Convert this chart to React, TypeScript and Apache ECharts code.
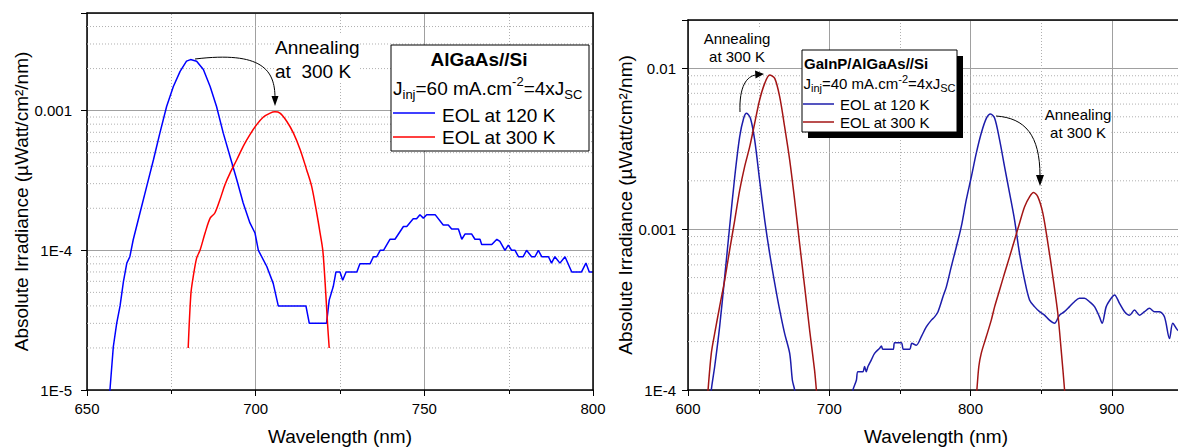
import React, { useEffect, useRef } from "react";
import * as echarts from "echarts";

const FONT = "'Liberation Sans', Arial, Helvetica, sans-serif";

// ---------- Left panel: AlGaAs//Si ----------
const xTitle = "Wavelength (nm)";
const yTitle = "Absolute Irradiance (µWatt/cm²/nm)";
const leftYTickValues = [1e-5, 1e-4, 1e-3];
const leftYTickLabels = ["1E-5", "1E-4", "0.001"];
const leftMinorY = [2e-5, 3e-5, 4e-5, 5e-5, 6e-5, 7e-5, 8e-5, 9e-5, 2e-4, 3e-4, 4e-4, 5e-4, 6e-4, 7e-4, 8e-4, 9e-4, 2e-3, 3e-3, 4e-3];
const leftMinorX = [675, 725, 775];

const leftEol120: [number, number][] = [
  [656.5, 8e-6], [656.8, 1.0e-5], [657.8, 2.04e-5], [658.8, 3.0e-5], [659.8, 4.0e-5], [660.8, 5.97e-5],
  [661.8, 8.1e-5], [662.7, 9.0e-5], [663.7, 1.19e-4], [665.7, 1.85e-4], [667.7, 2.87e-4], [669.7, 4.45e-4],
  [671.6, 6.9e-4], [673.6, 1.07e-3], [675.6, 1.49e-3], [677.6, 1.91e-3], [679.5, 2.26e-3], [680.7, 2.32e-3],
  [682.5, 2.26e-3], [684.5, 1.97e-3], [686.5, 1.49e-3], [688.4, 1.07e-3], [690.4, 6.9e-4], [692.4, 4.7e-4],
  [694.4, 3.2e-4], [696.3, 2.18e-4], [698.3, 1.57e-4], [699.8, 1.33e-4], [700.8, 1.0e-4], [703.3, 7.66e-5],
  [705.2, 5.8e-5], [706.7, 4.0e-5], [714.9, 4.0e-5], [715.9, 3.0e-5], [721.0, 3.0e-5], [721.8, 4.4e-5],
  [723.0, 5.5e-5], [723.8, 7.0e-5], [725.0, 7.0e-5], [725.8, 6.1e-5], [726.8, 7.0e-5], [730.0, 7.0e-5],
  [730.9, 8.0e-5], [733.9, 8.0e-5], [734.9, 9.0e-5], [735.9, 9.0e-5], [736.9, 1.0e-4], [737.9, 1.0e-4],
  [739.8, 1.2e-4], [741.3, 1.2e-4], [743.8, 1.48e-4], [744.8, 1.48e-4], [746.7, 1.68e-4], [747.7, 1.68e-4],
  [748.7, 1.8e-4], [749.7, 1.7e-4], [750.7, 1.8e-4], [753.2, 1.8e-4], [755.6, 1.52e-4], [757.1, 1.52e-4],
  [758.1, 1.42e-4], [760.1, 1.42e-4], [761.1, 1.2e-4], [762.1, 1.31e-4], [764.0, 1.31e-4], [765.0, 1.2e-4],
  [766.5, 1.2e-4], [767.0, 1.1e-4], [770.0, 1.1e-4], [771.5, 1.2e-4], [772.4, 1.16e-4], [773.9, 1.0e-4],
  [774.9, 1.09e-4], [775.9, 1.0e-4], [776.9, 1.0e-4], [777.9, 9.0e-5], [779.3, 9.0e-5], [780.3, 1.0e-4],
  [781.8, 9.0e-5], [782.8, 9.0e-5], [783.8, 1.0e-4], [784.8, 9.0e-5], [786.8, 9.0e-5], [787.7, 8.1e-5],
  [788.7, 9.0e-5], [790.2, 8.1e-5], [791.7, 9.0e-5], [793.7, 7.0e-5], [796.6, 7.0e-5], [797.9, 8.1e-5],
  [798.9, 7.0e-5], [800.0, 7.0e-5],
];

const leftEol300: [number, number][] = [
  [680.0, 2.0e-5], [680.8, 4.9e-5], [681.5, 6.5e-5], [682.5, 8.8e-5], [683.5, 1.0e-4], [685.0, 1.33e-4],
  [686.5, 1.7e-4], [687.9, 1.85e-4], [689.4, 2.3e-4], [690.9, 2.95e-4], [692.4, 3.57e-4], [694.4, 4.45e-4],
  [696.3, 5.55e-4], [698.3, 6.73e-4], [700.3, 7.94e-4], [702.3, 9.0e-4], [704.3, 9.6e-4], [705.7, 9.8e-4],
  [707.2, 9.6e-4], [709.2, 8.4e-4], [711.2, 6.9e-4], [713.2, 5.25e-4], [715.1, 3.78e-4], [716.6, 2.87e-4],
  [718.1, 1.85e-4], [719.1, 1.33e-4], [719.9, 1.0e-4], [720.6, 5.8e-5], [721.3, 3.0e-5], [721.8, 2.0e-5],
];

// ---------- Right panel: GaInP/AlGaAs//Si ----------
const rightYTickValues = [1e-4, 1e-3, 1e-2];
const rightYTickLabels = ["1E-4", "0.001", "0.01"];
const rightMinorY = [2e-4, 3e-4, 4e-4, 5e-4, 6e-4, 7e-4, 8e-4, 9e-4, 2e-3, 3e-3, 4e-3, 5e-3, 6e-3, 7e-3, 8e-3, 9e-3];
const rightMinorX = [650, 750, 850];

const rightEol120: [number, number][] = [
  [616.0, 8e-5], [616.5, 1.0e-4], [618.9, 1.4e-4], [622.4, 2.48e-4], [626.0, 5.07e-4], [629.5, 1.04e-3],
  [633.1, 2.12e-3], [636.6, 3.76e-3], [639.4, 4.9e-3], [641.5, 5.26e-3], [644.2, 4.9e-3], [647.2, 3.59e-3],
  [650.7, 2.02e-3], [654.3, 1.14e-3], [657.8, 7.08e-4], [661.4, 4.61e-4], [664.9, 3.15e-4], [668.4, 2.25e-4],
  [672.0, 1.69e-4], [673.9, 1.15e-4], [675.5, 1.0e-4], [676.5, 8e-5], [716.0, 8e-5],
  [716.8, 1.0e-4], [719.2, 1.15e-4], [720.3, 1.3e-4], [723.8, 1.3e-4], [725.0, 1.4e-4], [726.2, 1.3e-4],
  [727.4, 1.4e-4], [729.8, 1.54e-4], [732.1, 1.69e-4], [735.7, 1.82e-4], [736.9, 1.88e-4], [738.0, 1.79e-4],
  [745.1, 1.79e-4], [746.3, 1.97e-4], [751.0, 1.97e-4], [752.6, 1.79e-4], [756.9, 1.79e-4], [758.5, 1.95e-4],
  [761.6, 1.9e-4], [765.2, 2.15e-4], [768.7, 2.47e-4], [772.3, 2.72e-4], [774.6, 2.85e-4], [777.0, 3.07e-4],
  [780.5, 3.8e-4], [782.9, 4.38e-4], [786.4, 5.85e-4], [790.0, 7.78e-4], [793.5, 1.04e-3], [797.0, 1.52e-3],
  [800.6, 2.12e-3], [804.1, 2.97e-3], [807.6, 3.95e-3], [811.2, 4.89e-3], [814.2, 5.2e-3], [817.1, 4.89e-3],
  [820.6, 3.59e-3], [824.1, 2.45e-3], [827.7, 1.67e-3], [831.2, 1.14e-3], [834.7, 7.08e-4], [838.3, 4.83e-4],
  [841.8, 3.63e-4], [845.3, 3.3e-4], [848.9, 3.07e-4], [852.4, 2.92e-4], [855.9, 2.72e-4], [859.5, 2.6e-4],
  [863.0, 2.92e-4], [866.5, 3.07e-4], [870.1, 3.3e-4], [873.6, 3.54e-4], [877.1, 3.72e-4], [880.7, 3.72e-4],
  [884.2, 3.54e-4], [887.8, 3.3e-4], [891.3, 2.85e-4], [893.2, 2.6e-4], [896.1, 3.3e-4], [899.6, 3.72e-4],
  [902.0, 3.9e-4], [905.5, 3.46e-4], [909.1, 3.07e-4], [912.6, 2.92e-4], [916.1, 3.14e-4], [919.7, 2.92e-4],
  [923.2, 3.07e-4], [926.7, 3.22e-4], [930.3, 3.07e-4], [933.8, 3.07e-4], [937.3, 2.85e-4], [940.9, 2.09e-4],
  [943.2, 2.6e-4], [946.6, 2.36e-4], [949.0, 2.3e-4],
];

const rightEol300: [number, number][] = [
  [613.5, 8e-5], [614.2, 1.0e-4], [616.5, 1.69e-4], [618.9, 2.25e-4], [622.4, 3.3e-4], [626.0, 4.83e-4],
  [629.5, 7.43e-4], [633.1, 1.14e-3], [636.6, 1.75e-3], [640.1, 2.45e-3], [643.7, 3.26e-3], [647.2, 4.56e-3],
  [650.7, 6.36e-3], [654.3, 8.07e-3], [657.8, 9.1e-3], [661.4, 8.67e-3], [664.9, 6.67e-3], [668.4, 4.34e-3],
  [672.0, 2.69e-3], [675.5, 1.52e-3], [679.0, 8.17e-4], [682.6, 4.38e-4], [686.1, 2.36e-4], [689.6, 1.33e-4],
  [690.9, 1.0e-4], [692.0, 8e-5], [803.5, 8e-5],
  [804.5, 1.0e-4], [805.9, 1.4e-4], [807.6, 1.69e-4], [811.2, 2.15e-4], [814.7, 2.72e-4], [817.1, 3.3e-4],
  [820.6, 4.19e-4], [824.1, 5.32e-4], [827.7, 6.75e-4], [831.2, 8.57e-4], [834.7, 1.09e-3], [838.3, 1.38e-3],
  [841.8, 1.59e-3], [844.6, 1.69e-3], [847.7, 1.59e-3], [851.2, 1.26e-3], [854.8, 8.17e-4], [858.3, 5.07e-4],
  [861.8, 3.0e-4], [864.2, 1.77e-4], [866.6, 1.0e-4], [867.2, 8e-5],
];

const seriesNames = ["EOL at 120 K", "EOL at 300 K"];
const leftColors = ["#0000ff", "#ff0000"];
const rightColors = ["#1c1cab", "#a31515"];

const MINOR_COLOR = "#b0b0b0";
const MINOR_DASH = [1, 2];

function tickFormatter(vals: number[], labels: string[]) {
  return (v: number) => {
    const i = vals.findIndex((t) => Math.abs(v - t) / t < 1e-6);
    return i >= 0 ? labels[i] : "";
  };
}

function xAxisMain(grid: number, min: number, max: number, interval: number, namePad: number, lastLabel: number) {
  return {
    gridIndex: grid, type: "value", position: "bottom", min, max, interval,
    axisLine: { show: true, onZero: false, lineStyle: { color: "#000", width: 1.5 } },
    axisTick: { show: true, length: 6, lineStyle: { color: "#000", width: 1 } },
    minorTick: { show: false }, minorSplitLine: { show: false },
    splitLine: { show: true, lineStyle: { color: "#a0a0a0", width: 1 } },
    axisLabel: {
      fontSize: 15, fontFamily: FONT, color: "#000", margin: 11,
      formatter: (v: number) => (v <= lastLabel ? String(v) : ""),
    },
    name: xTitle, nameLocation: "middle", nameGap: 37,
    nameTextStyle: { fontSize: 19, fontFamily: FONT, color: "#000", padding: [0, namePad, 0, 0] },
  };
}

function yAxisMain(grid: number, min: number, max: number, vals: number[], labels: string[], margin: number, gap: number) {
  return {
    gridIndex: grid, type: "log", logBase: 10, position: "left", min, max,
    axisLine: { show: true, onZero: false, lineStyle: { color: "#000", width: 1.5 } },
    axisTick: { show: true, length: 6, lineStyle: { color: "#000", width: 1 } },
    minorTick: { show: false }, minorSplitLine: { show: false },
    splitLine: { show: true, lineStyle: { color: "#a0a0a0", width: 1 } },
    axisLabel: { fontSize: 15, fontFamily: FONT, color: "#000", margin, formatter: tickFormatter(vals, labels) },
    name: yTitle, nameLocation: "middle", nameGap: gap,
    nameTextStyle: { fontSize: 19, fontFamily: FONT, color: "#000" },
  };
}

function frameAxis(kind: "x" | "y", grid: number) {
  return {
    gridIndex: grid, type: "value", position: kind === "x" ? "top" : "right", min: 0, max: 1, z: 5,
    axisLine: { show: true, onZero: false, lineStyle: { color: "#000", width: 1.5 } },
    axisTick: { show: false }, axisLabel: { show: false }, splitLine: { show: false },
  };
}

function lineSeries(name: string, data: [number, number][], color: string, grid: number, smooth: number | boolean) {
  return {
    type: "line", name, xAxisIndex: grid, yAxisIndex: grid, data,
    symbol: "none", showSymbol: false, smooth, clip: true, z: 3,
    lineStyle: { color, width: 1.5 }, itemStyle: { color },
  };
}

// horizontal dotted minor grid lines and their small outside ticks: plain line series on the log axis
function minorYLines(grid: number, xMin: number, xMax: number, tickLen: number, minorY: number[]) {
  const out: any[] = [];
  minorY.forEach((v) => {
    out.push({
      type: "line", xAxisIndex: grid, yAxisIndex: grid, silent: true, z: 1, clip: true,
      symbol: "none", showSymbol: false,
      data: [[xMin, v], [xMax, v]],
      lineStyle: { color: MINOR_COLOR, width: 1, type: MINOR_DASH },
    });
    out.push({
      type: "line", xAxisIndex: grid, yAxisIndex: grid, silent: true, z: 4, clip: false,
      symbol: "none", showSymbol: false,
      data: [[xMin - tickLen, v], [xMin, v]],
      lineStyle: { color: "#000", width: 1 },
    });
  });
  return out;
}

const snap = (v: number) => Math.round(v) + 0.5;

// vertical dotted minor grid lines + small outside ticks below the bottom axis
function minorXSeries(grid: number, yMin: number, yMax: number, minorX: number[]) {
  return {
    type: "custom", xAxisIndex: grid, yAxisIndex: grid, silent: true, z: 1, clip: false,
    data: minorX.map((x) => [x, yMin]), encode: { x: 0, y: 1 },
    renderItem: (params: any, api: any) => {
      const xv = minorX[params.dataIndex];
      const a = api.coord([xv, yMin]);
      const b = api.coord([xv, yMax]);
      const x = snap(a[0]);
      return {
        type: "group",
        children: [
          { type: "line", shape: { x1: x, y1: a[1], x2: x, y2: b[1] }, style: { stroke: MINOR_COLOR, lineWidth: 1, lineDash: MINOR_DASH } },
          { type: "line", shape: { x1: x, y1: a[1], x2: x, y2: a[1] + 4 }, style: { stroke: "#000", lineWidth: 1 } },
        ],
      };
    },
  };
}

const T = (props: any) => ({ type: "text", z: 100, ...props });

const graphic: any[] = [
  // Left legend box
  { type: "rect", z: 90, shape: { x: 391, y: 45, width: 198, height: 106 }, style: { fill: "#fff", stroke: "#000", lineWidth: 1 } },
  T({ x: 479, y: 59, style: { text: "AlGaAs//Si", font: `bold 19px ${FONT}`, fill: "#000", textAlign: "center", textVerticalAlign: "middle" } }),
  T({
    x: 393, y: 88,
    style: {
      text: "{m|J}{s|inj}{m|=60 mA.cm}{p|-2}{m|=4xJ}{s|SC}", textVerticalAlign: "middle", fill: "#000",
      rich: {
        m: { fontSize: 19, fontFamily: FONT, lineHeight: 26 },
        s: { fontSize: 13, fontFamily: FONT, lineHeight: 12, verticalAlign: "bottom" },
        p: { fontSize: 13, fontFamily: FONT, lineHeight: 12, verticalAlign: "top" },
      },
    },
  }),
  { type: "line", z: 100, shape: { x1: 393, y1: 113, x2: 435, y2: 113 }, style: { stroke: leftColors[0], lineWidth: 1.5 } },
  T({ x: 442, y: 115, style: { text: seriesNames[0], font: `19px ${FONT}`, fill: "#000", textVerticalAlign: "middle" } }),
  { type: "line", z: 100, shape: { x1: 393, y1: 137, x2: 435, y2: 137 }, style: { stroke: leftColors[1], lineWidth: 1.5 } },
  T({ x: 442, y: 137, style: { text: seriesNames[1], font: `19px ${FONT}`, fill: "#000", textVerticalAlign: "middle" } }),

  // Left annotation
  T({ x: 275, y: 35, style: { text: "Annealing\nat  300 K", font: `19px ${FONT}`, lineHeight: 24, fill: "#000", backgroundColor: "#fff", textVerticalAlign: "top" } }),
  { type: "bezierCurve", z: 100, shape: { x1: 195, y1: 59, cpx1: 262, cpy1: 51, cpx2: 275, cpy2: 70, x2: 275, y2: 98 }, style: { stroke: "#000", lineWidth: 1, fill: null } },
  { type: "polygon", z: 100, shape: { points: [[275, 106], [271.5, 96], [278.5, 96]] }, style: { fill: "#000" } },

  // Right legend box with shadow
  { type: "rect", z: 89, shape: { x: 808, y: 56, width: 155, height: 82 }, style: { fill: "#000" } },
  { type: "rect", z: 90, shape: { x: 802, y: 50, width: 155, height: 82 }, style: { fill: "#fff", stroke: "#000", lineWidth: 1 } },
  T({ x: 804, y: 63, style: { text: "GaInP/AlGaAs//Si", font: `bold 15px ${FONT}`, fill: "#000", textVerticalAlign: "middle" } }),
  T({
    x: 803.5, y: 83,
    style: {
      text: "{m|J}{s|inj}{m|=40 mA.cm}{p|-2}{m|=4xJ}{s|SC}", textVerticalAlign: "middle", fill: "#000",
      rich: {
        m: { fontSize: 15, fontFamily: FONT, lineHeight: 20 },
        s: { fontSize: 11, fontFamily: FONT, lineHeight: 10, verticalAlign: "bottom" },
        p: { fontSize: 11, fontFamily: FONT, lineHeight: 10, verticalAlign: "top" },
      },
    },
  }),
  { type: "line", z: 100, shape: { x1: 803, y1: 104, x2: 834, y2: 104 }, style: { stroke: rightColors[0], lineWidth: 1.5 } },
  T({ x: 840, y: 104, style: { text: seriesNames[0], font: `15px ${FONT}`, fill: "#000", textVerticalAlign: "middle" } }),
  { type: "line", z: 100, shape: { x1: 803, y1: 122, x2: 834, y2: 122 }, style: { stroke: rightColors[1], lineWidth: 1.5 } },
  T({ x: 840, y: 122, style: { text: seriesNames[1], font: `15px ${FONT}`, fill: "#000", textVerticalAlign: "middle" } }),

  // Right annotations
  T({ x: 737, y: 29, style: { text: "Annealing\nat 300 K", font: `15px ${FONT}`, lineHeight: 18.5, fill: "#000", backgroundColor: "#fff", textAlign: "center", textVerticalAlign: "top" } }),
  { type: "bezierCurve", z: 100, shape: { x1: 740, y1: 112, cpx1: 739, cpy1: 86, cpx2: 747, cpy2: 76, x2: 756, y2: 75 }, style: { stroke: "#000", lineWidth: 1, fill: null } },
  { type: "polygon", z: 100, shape: { points: [[764, 74], [755, 70.5], [755.5, 78.5]] }, style: { fill: "#000" } },
  T({ x: 1078, y: 105, style: { text: "Annealing\nat 300 K", font: `15px ${FONT}`, lineHeight: 18.5, fill: "#000", backgroundColor: "#fff", textAlign: "center", textVerticalAlign: "top" } }),
  { type: "bezierCurve", z: 100, shape: { x1: 996, y1: 116, cpx1: 1025, cpy1: 118, cpx2: 1040, cpy2: 135, x2: 1040, y2: 176 }, style: { stroke: "#000", lineWidth: 1, fill: null } },
  { type: "polygon", z: 100, shape: { points: [[1040, 186], [1036, 175], [1044, 175]] }, style: { fill: "#000" } },
];

const option: any = {
  animation: false,
  backgroundColor: "#fff",
  textStyle: { fontFamily: FONT },
  grid: [
    { left: 87, top: 13, width: 506, height: 377, containLabel: false, outerBoundsMode: "none" },
    { left: 688, top: 20, width: 565, height: 370, containLabel: false, outerBoundsMode: "none" },
  ],
  xAxis: [
    xAxisMain(0, 650, 800, 50, 0, 800),
    xAxisMain(1, 600, 1000, 100, 69, 900),
    frameAxis("x", 0),
    frameAxis("x", 1),
  ],
  yAxis: [
    yAxisMain(0, 1e-5, 5e-3, leftYTickValues, leftYTickLabels, 15, 55),
    yAxisMain(1, 1e-4, 2e-2, rightYTickValues, rightYTickLabels, 12, 53),
    frameAxis("y", 0),
    frameAxis("y", 1),
  ],
  series: [
    ...minorYLines(0, 650, 800, 1.2, leftMinorY),
    minorXSeries(0, 1e-5, 5e-3, leftMinorX),
    ...minorYLines(1, 600, 1000, 2.8, rightMinorY),
    minorXSeries(1, 1e-4, 2e-2, rightMinorX),
    lineSeries(seriesNames[0], leftEol120, leftColors[0], 0, false),
    lineSeries(seriesNames[1], leftEol300, leftColors[1], 0, 0.3),
    lineSeries(seriesNames[0], rightEol120, rightColors[0], 1, 0.3),
    lineSeries(seriesNames[1], rightEol300, rightColors[1], 1, 0.3),
  ],
  graphic,
};

export default function App() {
  const ref = useRef<HTMLDivElement>(null);
  useEffect(() => {
    const chart = echarts.init(ref.current!, null, { renderer: "svg" });
    chart.setOption(option);
    return () => chart.dispose();
  }, []);
  return (
    <div
      ref={ref}
      style={{ position: "absolute", left: 0, top: 0, width: 1178, height: 448, background: "#fff" }}
    />
  );
}
